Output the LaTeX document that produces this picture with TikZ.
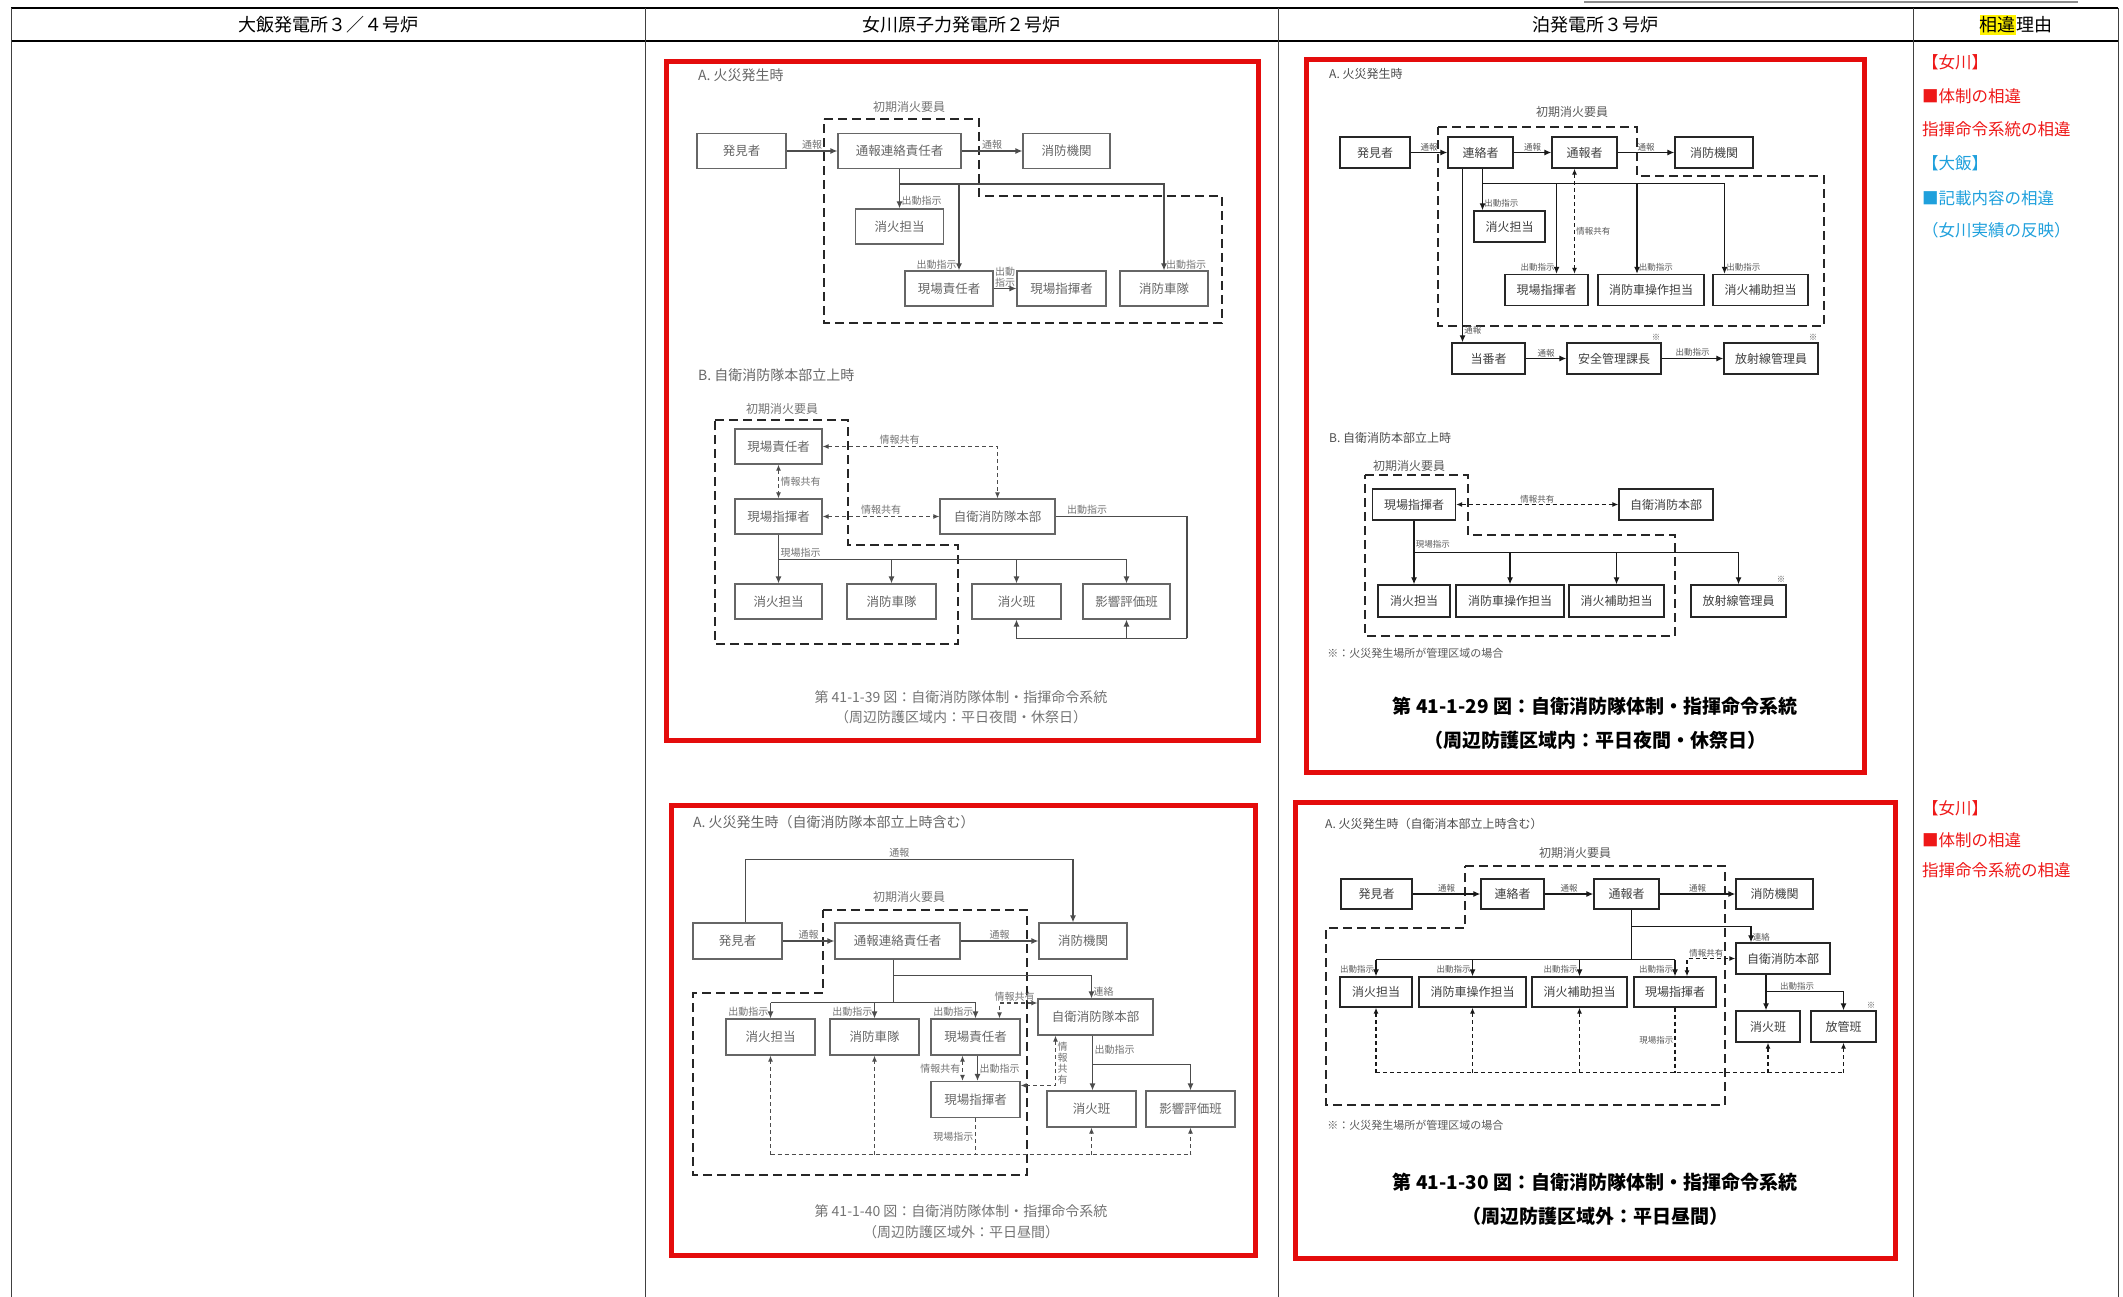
\documentclass[tikz,border=0pt]{standalone}
\usepackage{fontspec}
\setmainfont{Noto Sans CJK JP}
\usetikzlibrary{arrows.meta, positioning, calc}
\definecolor{notered}{RGB}{238,24,24}
\definecolor{noteblue}{RGB}{31,160,220}
\definecolor{framered}{RGB}{228,12,12}

\begin{document}
\begin{tikzpicture}[x=1pt, y=-1pt,
	head/.style={inner sep=0, font=\fontsize{18}{20}\selectfont},
	obox/.style={rectangle, draw=black!60, line width=1.2pt, fill=white, minimum height=35, inner sep=0, text=black!60, font=\fontsize{12.5}{14}\selectfont},
	tbox/.style={rectangle, draw=black!85, line width=1.4pt, fill=white, minimum height=31, inner sep=0, text=black!75, font=\fontsize{12}{13}\selectfont},
	olab/.style={text=black!55, inner sep=1.5pt, font=\fontsize{10}{11}\selectfont},
	tlab/.style={text=black!65, inner sep=1.2pt, font=\fontsize{8.5}{9.5}\selectfont},
	otitle/.style={anchor=west, inner sep=0, text=black!60, font=\fontsize{14}{16}\selectfont},
	ttitle/.style={anchor=west, inner sep=0, text=black!70, font=\fontsize{12}{14}\selectfont},
	grp/.style={draw=black!85, line width=2.4pt, dash pattern=on 9pt off 5pt},
	oline/.style={line width=1.2pt},
	arrow/.style={-{Latex[length=7pt,width=6pt]}, line width=1.2pt},
	darrow/.style={{Latex[length=6pt,width=5pt]}-{Latex[length=6pt,width=5pt]}, line width=1.1pt, dash pattern=on 4pt off 3pt},
	uparrow/.style={-{Latex[length=6pt,width=5pt]}, line width=1.1pt, dash pattern=on 4pt off 3pt},
	dline/.style={line width=1.1pt, dash pattern=on 4pt off 3pt},
	frame/.style={draw=framered, line width=5pt},
	note/.style={anchor=west, inner sep=0, font=\fontsize{16.5}{18}\selectfont}
]
	\useasboundingbox (0,0) rectangle (2123,1297);

	% table
	\draw[line width=2.5pt] (11,8) -- (2118,8);
	\draw[line width=1.2pt] (11,41) -- (2118,41);
	\foreach \x in {11,645,1278,1913,2118}
		\draw[line width=1pt, black!75] (\x,8) -- (\x,1297);
	\draw[line width=2pt, black!45] (1584,2) -- (2078,2);

	\node[head] (h1) at (328,25) {大飯発電所３／４号炉};
	\node[head] (h2) at (961,25) {女川原子力発電所２号炉};
	\node[head] (h3) at (1595,25) {泊発電所３号炉};
	\node[head, fill=yellow, anchor=east, inner ysep=2pt] (h4) at (2016,25) {相違};
	\node[head, anchor=west] (h5) at (h4.east) {理由};

	% Onagawa, first figure
	\draw[frame] (666,62) rectangle (1258,740);
	\begin{scope}[black!70]
	\node[otitle] (oat) at (698,75) {A. 火災発生時};
	\node[olab, font=\fontsize{12}{13}\selectfont] (oag) at (909,107) {初期消火要員};
	\draw[grp] (824,119) -- (979,119) -- (979,196) -- (1222,196) -- (1222,323) -- (824,323) -- cycle;
	\node[obox, minimum width=89] (oafind) at (741.5,151) {発見者};
	\node[obox, minimum width=123] (oarep) at (899.5,151) {通報連絡責任者};
	\node[obox, minimum width=87] (oafd) at (1066.5,151) {消防機関};
	\node[obox, minimum width=88] (oaext) at (899.5,226.5) {消火担当};
	\node[obox, minimum width=88] (oasite) at (949,288.5) {現場責任者};
	\node[obox, minimum width=89] (oacmd) at (1061.5,288.5) {現場指揮者};
	\node[obox, minimum width=88] (oatruck) at (1164,288.5) {消防車隊};

	\draw[arrow] (oafind) -- (oarep) node[olab, midway, above] {通報};
	\draw[arrow] (oarep) -- (oafd) node[olab, midway, above] {通報};
	\draw[arrow] (oarep) -- (oaext) node[olab, pos=0.8, right] {出動指示};
	\path (oarep.south) ++(0,15) coordinate (oaj);
	\coordinate (oain) at ([xshift=10]oasite.north);
	\draw[arrow] (oaj) -| (oatruck) node[olab, pos=0.965, right] {出動指示};
	\draw[arrow, line width=2pt] (oaj -| oain) -- (oain) node[olab, pos=0.93, left] {出動指示};
	\draw[arrow] (oasite) -- (oacmd) node[olab, midway, above, align=center, inner sep=0.5pt] {出動\\指示};

	\node[otitle] (obt) at (698,375) {B. 自衛消防隊本部立上時};
	\node[olab, font=\fontsize{12}{13}\selectfont] (obg) at (782,409) {初期消火要員};
	\draw[grp] (715,420) -- (848,420) -- (848,545) -- (958,545) -- (958,644) -- (715,644) -- cycle;
	\node[obox, minimum width=87] (obsite) at (778.5,446.5) {現場責任者};
	\node[obox, minimum width=87] (obcmd) at (778.5,516.5) {現場指揮者};
	\node[obox, minimum width=115] (obhq) at (997.5,516.5) {自衛消防隊本部};
	\node[obox, minimum width=87] (obext) at (778.5,601.5) {消火担当};
	\node[obox, minimum width=89] (obtruck) at (891.5,601.5) {消防車隊};
	\node[obox, minimum width=89] (obteam) at (1016.5,601.5) {消火班};
	\node[obox, minimum width=87] (obeval) at (1126.5,601.5) {影響評価班};

	\draw[darrow] (obsite) -| (obhq) node[olab, pos=0.22, above] {情報共有};
	\draw[darrow] (obsite) -- (obcmd) node[olab, midway, right] {情報共有};
	\draw[darrow] (obcmd) -- (obhq) node[olab, midway, above] {情報共有};
	\draw[arrow] (obcmd) -- (obext) node[olab, pos=0.37, right] {現場指示};
	\path (obcmd.south) ++(0,25) coordinate (obj);
	\draw[oline] (obj) -- (obj -| obeval);
	\foreach \n in {obtruck, obteam, obeval}
		\draw[arrow] (obj -| \n) -- (\n);
	\path (obeval.south) ++(60.5,18.5) coordinate (obr);
	\draw[oline] (obhq) -| (obr) node[olab, pos=0.12, above] {出動指示};
	\draw[arrow] (obr) -| (obteam);
	\draw[arrow] (obr -| obeval) -- (obeval);
	\node[olab, font=\fontsize{14}{20}\selectfont, align=center] (obcap) at (961,707)
		{第 41-1-39 図：自衛消防隊体制・指揮命令系統\\（周辺防護区域内：平日夜間・休祭日）};
	\end{scope}

	% Tomari, first figure
	\draw[frame] (1306,60) rectangle (1864,772);
	\begin{scope}[black!90]
	\node[ttitle] (tat) at (1329,74) {A. 火災発生時};
	\node[tlab, font=\fontsize{12}{13}\selectfont] (tag) at (1572,112) {初期消火要員};
	\draw[grp] (1438,127) -- (1637,127) -- (1637,176) -- (1824,176) -- (1824,326) -- (1438,326) -- cycle;
	\node[tbox, minimum width=70] (tafind) at (1375,152.5) {発見者};
	\node[tbox, minimum width=65] (tacon) at (1480.5,152.5) {連絡者};
	\node[tbox, minimum width=65] (tarep) at (1584.5,152.5) {通報者};
	\node[tbox, minimum width=78] (tafd) at (1714,152.5) {消防機関};
	\node[tbox, minimum width=71] (taext) at (1509.5,226.5) {消火担当};
	\node[tbox, minimum width=83] (tacmd) at (1546.5,290) {現場指揮者};
	\node[tbox, minimum width=106] (tadrv) at (1651,290) {消防車操作担当};
	\node[tbox, minimum width=95] (tasup) at (1760.5,290) {消火補助担当};
	\node[tbox, minimum width=73] (taduty) at (1488.5,358.5) {当番者};
	\node[tbox, minimum width=94] (tamgr) at (1614,358.5) {安全管理課長};
	\node[tbox, minimum width=94] (tarad) at (1771,358.5) {放射線管理員};

	\draw[arrow] (tafind) -- (tacon) node[tlab, midway, above] {通報};
	\draw[arrow] (tacon) -- (tarep) node[tlab, midway, above] {通報};
	\draw[arrow] (tarep) -- (tafd) node[tlab, midway, above] {通報};
	\path ([xshift=2]tacon.south) ++(0,15) coordinate (taj);
	\coordinate (tain2) at ([xshift=10]tacmd.north);
	\coordinate (tain3) at ([xshift=-14]tadrv.north);
	\coordinate (tain4) at ([xshift=-36]tasup.north);
	\draw[oline] ([xshift=2]tacon.south) -- (taj) -- (taj -| tain4);
	\draw[arrow] (taj) -- (taj |- taext.north) node[tlab, pos=0.75, right] {出動指示};
	\draw[arrow] (taj -| tain2) -- (tain2) node[tlab, pos=0.93, left] {出動指示};
	\draw[arrow] (taj -| tain3) -- (tain3) node[tlab, pos=0.93, right] {出動指示};
	\draw[arrow] (taj -| tain4) -- (tain4) node[tlab, pos=0.93, right] {出動指示};
	\draw[darrow] ([xshift=-10]tarep.south) -- ([xshift=-10]tarep.south |- tacmd.north) node[tlab, pos=0.6, right] {情報共有};
	\draw[arrow] ([xshift=-18]tacon.south) -- ([xshift=-18]tacon.south |- taduty.north) node[tlab, pos=0.93, right] {通報};
	\draw[arrow] (taduty) -- (tamgr) node[tlab, midway, above] {通報};
	\draw[arrow] (tamgr) -- (tarad) node[tlab, midway, above] {出動指示};
	\node[tlab, anchor=south east] (tas1) at (tamgr.north east) {※};
	\node[tlab, anchor=south east] (tas2) at (tarad.north east) {※};

	\node[ttitle] (tbt) at (1329,438) {B. 自衛消防本部立上時};
	\node[tlab, font=\fontsize{12}{13}\selectfont] (tbg) at (1409,466) {初期消火要員};
	\draw[grp] (1365,475) -- (1468,475) -- (1468,535) -- (1675,535) -- (1675,636) -- (1365,636) -- cycle;
	\node[tbox, minimum width=83] (tbcmd) at (1414,504.5) {現場指揮者};
	\node[tbox, minimum width=94] (tbhq) at (1666,504.5) {自衛消防本部};
	\node[tbox, minimum width=72, minimum height=32] (tbext) at (1414,601) {消火担当};
	\node[tbox, minimum width=108, minimum height=32] (tbdrv) at (1510,601) {消防車操作担当};
	\node[tbox, minimum width=95, minimum height=32] (tbsup) at (1616.5,601) {消火補助担当};
	\node[tbox, minimum width=95, minimum height=32] (tbrad) at (1738.5,601) {放射線管理員};

	\draw[darrow] (tbcmd) -- (tbhq) node[tlab, midway, above] {情報共有};
	\draw[arrow] (tbcmd) -- (tbext) node[tlab, pos=0.37, right] {現場指示};
	\path (tbcmd.south) ++(0,32) coordinate (tbj);
	\draw[oline] (tbj) -- (tbj -| tbrad);
	\foreach \n in {tbdrv, tbsup, tbrad}
		\draw[arrow] (tbj -| \n) -- (\n);
	\node[tlab, anchor=south east] (tbs) at (tbrad.north east) {※};
	\node[tlab, anchor=west, font=\fontsize{11}{12}\selectfont] (tbnote) at (1326,653) {※：火災発生場所が管理区域の場合};
	\node[text=black, font=\fontsize{19}{34}\selectfont\bfseries, align=center] (tbcap) at (1595,723)
		{第 41-1-29 図：自衛消防隊体制・指揮命令系統\\（周辺防護区域内：平日夜間・休祭日）};
	\end{scope}

	% Onagawa, second figure
	\draw[frame] (671,805) rectangle (1255,1255);
	\begin{scope}[black!70]
	\node[otitle] (oct) at (693,822) {A. 火災発生時（自衛消防隊本部立上時含む）};
	\node[olab, font=\fontsize{12}{13}\selectfont] (ocg) at (909,897) {初期消火要員};
	\draw[grp] (823,910) -- (1027,910) -- (1027,1175) -- (693,1175) -- (693,993) -- (823,993) -- cycle;
	\node[obox, minimum width=89, minimum height=36] (ocfind) at (737.5,941) {発見者};
	\node[obox, minimum width=125, minimum height=36] (ocrep) at (897.5,941) {通報連絡責任者};
	\node[obox, minimum width=88, minimum height=36] (ocfd) at (1083,941) {消防機関};
	\node[obox, minimum width=89, minimum height=36] (ocext) at (770.5,1037) {消火担当};
	\node[obox, minimum width=89, minimum height=36] (octruck) at (874.5,1037) {消防車隊};
	\node[obox, minimum width=89, minimum height=36] (ocsite) at (975.5,1037) {現場責任者};
	\node[obox, minimum width=115, minimum height=36] (ochq) at (1095.5,1017) {自衛消防隊本部};
	\node[obox, minimum width=89, minimum height=36] (occmd) at (975.5,1099.5) {現場指揮者};
	\node[obox, minimum width=89, minimum height=36] (octeam) at (1091.5,1109) {消火班};
	\node[obox, minimum width=89, minimum height=36] (oceval) at (1190.5,1109) {影響評価班};

	\draw[arrow] ([xshift=8]ocfind.north) -- ++(0,-63) -| ([xshift=-10]ocfd.north) node[olab, pos=0.235, above] {通報};
	\draw[arrow] (ocfind) -- (ocrep) node[olab, midway, above] {通報};
	\draw[arrow] (ocrep) -- (ocfd) node[olab, midway, above] {通報};
	\draw[oline] ([xshift=-4]ocrep.south) -- ++(0,16) coordinate (ocj1) -- ++(0,27) coordinate (ocj2);
	\draw[arrow] (ocj1) -| ([xshift=-4]ochq.north) node[olab, pos=0.85, right] {連絡};
	\draw[oline] (ocj2 -| ocext) -- (ocj2 -| ocsite);
	\foreach \n in {ocext, octruck, ocsite}
		\draw[arrow] (ocj2 -| \n) -- (\n) node[olab, pos=0.6, left] {出動指示};
	\draw[darrow] ([yshift=14]ochq.west) -| ([xshift=24]ocsite.north) node[olab, pos=0.3, above] {情報共有};
	\draw[arrow] ([xshift=2]ocsite.south) -- ([xshift=2]occmd.north) node[olab, midway, right] {出動指示};
	\draw[darrow] ([xshift=-13]ocsite.south) -- ([xshift=-13]occmd.north) node[olab, midway, left] {情報共有};
	\draw[darrow] ([xshift=-40]ochq.south) |- ([yshift=14]occmd.east) node[olab, pos=0.28, right, align=center] {情\\報\\共\\有};
	\draw[oline] ([xshift=-3]ochq.south) -- ++(0,29) coordinate (ocj3) node[olab, midway, right] {出動指示};
	\draw[arrow] (ocj3) -- (ocj3 |- octeam.north);
	\draw[arrow] (ocj3) -| (oceval);
	\path (ocext.south) ++(0,99) coordinate (ocb);
	\draw[dline] (ocb) -- (ocb -| oceval);
	\foreach \n in {ocext, octruck, octeam, oceval}
		\draw[uparrow] (ocb -| \n) -- (\n);
	\draw[dline] (occmd) -- (occmd |- ocb) node[olab, midway, left] {現場指示};
	\node[olab, font=\fontsize{14}{21}\selectfont, align=center] (occap) at (961,1222)
		{第 41-1-40 図：自衛消防隊体制・指揮命令系統\\（周辺防護区域外：平日昼間）};
	\end{scope}

	% Tomari, second figure
	\draw[frame] (1295,802) rectangle (1895,1258);
	\begin{scope}[black!90]
	\node[ttitle] (tct) at (1325,824) {A. 火災発生時（自衛消本部立上時含む）};
	\node[tlab, font=\fontsize{12}{13}\selectfont] (tcg) at (1575,853) {初期消火要員};
	\draw[grp] (1465,866) -- (1725,866) -- (1725,1105) -- (1326,1105) -- (1326,928) -- (1465,928) -- cycle;
	\node[tbox, minimum width=71, minimum height=30] (tcfind) at (1376.5,894) {発見者};
	\node[tbox, minimum width=63, minimum height=30] (tccon) at (1512.5,894) {連絡者};
	\node[tbox, minimum width=65, minimum height=30] (tcrep) at (1626.5,894) {通報者};
	\node[tbox, minimum width=77, minimum height=30] (tcfd) at (1774.5,894) {消防機関};
	\node[tbox, minimum width=94] (tchq) at (1783,958.5) {自衛消防本部};
	\node[tbox, minimum width=72, minimum height=30] (tcext) at (1376,992) {消火担当};
	\node[tbox, minimum width=107, minimum height=30] (tcdrv) at (1472.5,992) {消防車操作担当};
	\node[tbox, minimum width=95, minimum height=30] (tcsup) at (1579.5,992) {消火補助担当};
	\node[tbox, minimum width=82, minimum height=30] (tccmd) at (1675,992) {現場指揮者};
	\node[tbox, minimum width=64] (tcteam) at (1768,1026.5) {消火班};
	\node[tbox, minimum width=65] (tcrp) at (1843.5,1026.5) {放管班};

	\draw[arrow] (tcfind) -- (tccon) node[tlab, midway, above] {通報};
	\draw[arrow] (tccon) -- (tcrep) node[tlab, midway, above] {通報};
	\draw[arrow] (tcrep) -- (tcfd) node[tlab, midway, above] {通報};
	\draw[oline] ([xshift=5]tcrep.south) -- ++(0,17) coordinate (tcj1) -- ++(0,33) coordinate (tcj2);
	\draw[arrow] (tcj1) -| ([xshift=-32]tchq.north) node[tlab, pos=0.85, right] {連絡};
	\draw[oline] (tcj2 -| tcext) -- (tcj2 -| tccmd);
	\foreach \n in {tcext, tcdrv, tcsup, tccmd}
		\draw[arrow] (tcj2 -| \n) -- (\n) node[tlab, pos=0.55, left] {出動指示};
	\draw[darrow] ([xshift=12]tccmd.north) |- (tchq) node[tlab, pos=0.7, above] {情報共有};
	\draw[oline] ([xshift=-17]tchq.south) -- ++(0,17) coordinate (tcj3);
	\draw[arrow] (tcj3) -- (tcj3 |- tcteam.north);
	\draw[arrow] (tcj3) -| (tcrp) node[tlab, pos=0.2, above] {出動指示};
	\node[tlab, anchor=south east] (tcs) at (tcrp.north east) {※};
	\path (tcext.south) ++(0,65) coordinate (tcb);
	\draw[dline] (tcb) -- (tcb -| tcrp);
	\foreach \n in {tcext, tcdrv, tcsup, tcteam, tcrp}
		\draw[uparrow] (tcb -| \n) -- (\n);
	\draw[dline] (tccmd) -- (tccmd |- tcb) node[tlab, midway, left] {現場指示};
	\node[tlab, anchor=west, font=\fontsize{11}{12}\selectfont] (tcnote) at (1326,1125) {※：火災発生場所が管理区域の場合};
	\node[text=black, font=\fontsize{19}{34}\selectfont\bfseries, align=center] (tccap) at (1595,1199)
		{第 41-1-30 図：自衛消防隊体制・指揮命令系統\\（周辺防護区域外：平日昼間）};
	\end{scope}

	% reasons
	\node[note, text=notered] (n1) at (1922,62) {【女川】};
	\node[note, text=notered] (n2) at (1922,96) {■体制の相違};
	\node[note, text=notered] (n3) at (1922,129) {指揮命令系統の相違};
	\node[note, text=noteblue] (n4) at (1922,163) {【大飯】};
	\node[note, text=noteblue] (n5) at (1922,198) {■記載内容の相違};
	\node[note, text=noteblue] (n6) at (1922,230) {（女川実績の反映）};
	\node[note, text=notered] (n7) at (1922,808) {【女川】};
	\node[note, text=notered] (n8) at (1922,840) {■体制の相違};
	\node[note, text=notered] (n9) at (1922,870) {指揮命令系統の相違};
\end{tikzpicture}
\end{document}
